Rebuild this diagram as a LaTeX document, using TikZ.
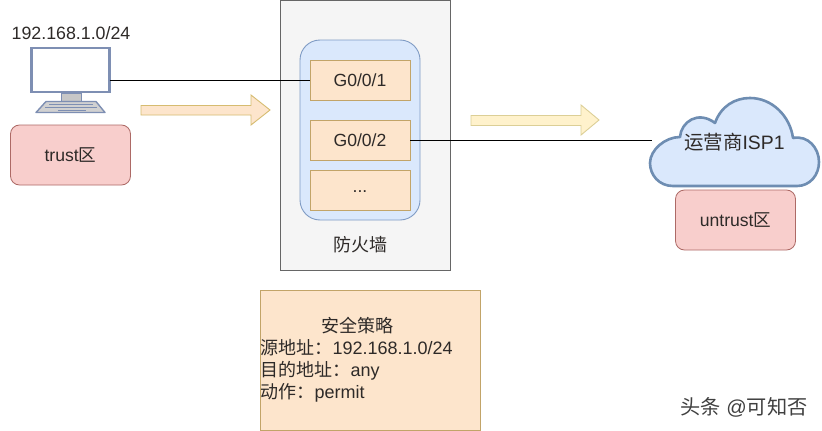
\documentclass[tikz,border=0pt]{standalone}
\usepackage{fontspec}
\setmainfont{Liberation Sans}
\newfontfamily\cjk{Noto Sans CJK SC}
\definecolor{txt}{HTML}{2E2A28}
\definecolor{portfill}{HTML}{FDE5CC}
\definecolor{portline}{HTML}{C2A468}
\definecolor{bluefill}{HTML}{DAE8FC}
\definecolor{blueline}{HTML}{7F9BC4}
\definecolor{redfill}{HTML}{F8CECC}
\definecolor{redline}{HTML}{AD6A66}
\definecolor{iconline}{HTML}{7E8FB3}
\definecolor{cloudline}{HTML}{6E8DB2}
\definecolor{arrowfill}{HTML}{FFF2CC}
\definecolor{arrowline}{HTML}{DCCF96}
\definecolor{arrowlinea}{HTML}{D6BC70}
\tikzset{
  every node/.style={inner sep=0pt,outer sep=0pt,text=txt,font=\fontsize{17.6}{22}\selectfont},
  port/.style={draw=portline,fill=portfill,line width=.9pt,minimum width=100pt,minimum height=40pt},
  zone/.style={draw=redline,fill=redfill,line width=.8pt,rounded corners=9pt,minimum width=120pt,minimum height=60pt},
  flowarrow/.style={draw=#1,line width=.9pt,line join=miter},
  wire/.style={draw=black,line width=.9pt},
}
\begin{document}
\begin{tikzpicture}[x=1pt,y=-1pt]
\useasboundingbox (0,0) rectangle (822,431);
\fill[white] (0,0) rectangle (822,431);
% firewall
\node[draw=black!60,fill=black!4,line width=1pt,minimum width=170pt,minimum height=270pt] (fw) at (365.5,135) {};
\node[draw=blueline,fill=bluefill,line width=.9pt,rounded corners=20pt,minimum width=120pt,minimum height=180pt] (group) at (360,130) {};
\node[port] (g1) at (360,80) {G0/0/1};
\node[port] (g2) at (360,140) {G0/0/2};
\node[port] (g3) at (360,190) {\raisebox{-5pt}{...}};
\node[font=\fontsize{18}{22}\selectfont] (fwlabel) at (360.5,245) {\cjk 防火墙};
% computer
\node[font=\fontsize{17.8}{20}\selectfont] (ip) at (71,33) {192.168.1.0/24};
\node[draw=iconline,fill=white,line width=2.4pt,minimum width=78pt,minimum height=44pt] (monitor) at (70.5,70) {};
\fill[fill=black!22,draw=iconline,line width=.8pt] (61,93) rectangle (81,101);
\fill[fill=black!18,draw=iconline,line width=1.4pt,line join=round] (46,101.5) -- (96,101.5) -- (105,112.5) -- (36,112.5) -- cycle;
\draw[iconline,line width=1.1pt] (49,104.5) -- (93,104.5) (45,107.5) -- (97,107.5) (58,110.5) -- (86,110.5);
\node[zone] (trust) at (70.5,155) {trust{\cjk 区}};
% cloud
\coordinate (cloudedge) at (652,140);
\draw[wire] (g1.west -| monitor.east) -- (g1.west);
\draw[wire] (g2.east) -- (cloudedge);
\draw[draw=cloudline,fill=bluefill,line width=2.6pt,line join=round]
  (673,186) .. controls (659,186) and (650,175) .. (650,163)
  .. controls (650,150) and (665,137) .. (680,137)
  .. controls (681,122) and (698,110) .. (715,123)
  .. controls (721,106) and (735,98) .. (750,98)
  .. controls (772,98) and (790,116) .. (793,138)
  .. controls (808,135) and (819,148) .. (819,162)
  .. controls (819,175) and (810,186) .. (797,186)
  -- cycle;
\node[font=\fontsize{19.4}{22}\selectfont] (isp) at (734.5,142) {{\cjk 运营商}ISP1};
\node[zone] (untrust) at (735.5,220) {untrust{\cjk 区}};
% flow arrows
\filldraw[flowarrow=arrowlinea,fill=portfill] (141,105.5) -- (251,105.5) -- (251,95) -- (270,110) -- (251,125) -- (251,115) -- (141,115) -- cycle;
\filldraw[flowarrow=arrowline,fill=arrowfill] (471,115.5) -- (581,115.5) -- (581,105) -- (599,120) -- (581,135) -- (581,125.5) -- (471,125.5) -- cycle;
% policy
\node[draw=portline,fill=portfill,line width=1pt,minimum width=220pt,minimum height=140pt] (policybox) at (370.5,360.5) {};
\node[anchor=north west,align=left,font=\fontsize{18}{22}\selectfont] (policy) at (260.5,317) {\hspace*{61pt}{\cjk 安全策略}\\{\cjk 源地址：}192.168.1.0/24\\{\cjk 目的地址：}any\\{\cjk 动作：}permit};
% watermark
\node[font=\fontsize{20.2}{22}\selectfont,text=black!75] (mark) at (744,407) {{\cjk 头条} @{\cjk 可知否}};
\end{tikzpicture}
\end{document}
